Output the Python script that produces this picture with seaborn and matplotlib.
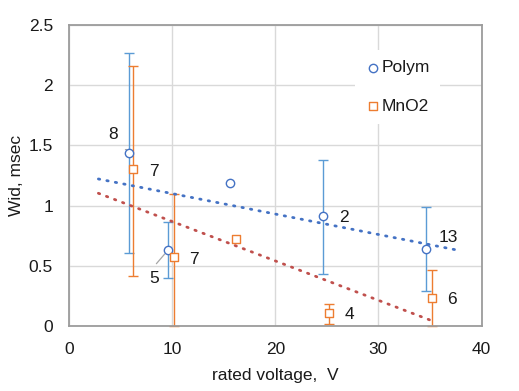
import numpy as np
import pandas as pd
import matplotlib
matplotlib.use("Agg")
import matplotlib.pyplot as plt
import seaborn as sns

# ---- data ----
polym_x = [5.85, 9.6, 15.6, 24.6, 34.6]
polym_y = [1.44, 0.63, 1.19, 0.915, 0.64]
polym_hi = [2.27, 0.86, np.nan, 1.38, 0.99]
polym_lo = [0.605, 0.395, np.nan, 0.434, 0.288]
polym_n = ["8", "5", "", "2", "13"]

mno2_x = [6.2, 10.15, 16.2, 25.2, 35.2]
mno2_y = [1.30, 0.57, 0.72, 0.11, 0.235]
mno2_hi = [2.16, 1.10, np.nan, 0.18, 0.465]
mno2_lo = [0.415, 0.0, np.nan, 0.017, 0.0]
mno2_n = ["7", "7", "", "4", "6"]

x_ticks = [0, 10, 20, 30, 40]
y_ticks = [0, 0.5, 1, 1.5, 2, 2.5]

sns.set_theme(style="white")
plt.rcParams["font.family"] = ["Liberation Sans", "DejaVu Sans"]

FS = 12.5
fig = plt.figure(figsize=(5.19, 3.91), dpi=100)
ax = fig.add_axes([0.1329, 0.1662, 0.795, 0.770])

BLUE = "#4472C4"
BLUE_ERR = "#5B9BD5"
ORANGE = "#ED7D31"
RED = "#C0504D"
TXT = "#1a1a1a"

ax.set_xlim(0, 40)
ax.set_ylim(0, 2.5)
ax.set_xticks(x_ticks)
ax.set_yticks(y_ticks)
ax.set_xticklabels([f"{t:g}" for t in x_ticks])
ax.set_yticklabels([f"{t:g}" for t in y_ticks])
ax.grid(True, color="#D9D9D9", linewidth=1.0)
ax.set_axisbelow(True)
for s in ax.spines.values():
    s.set_color("#9C9C9C")
    s.set_linewidth(1.3)
ax.tick_params(axis="both", length=0, labelsize=FS, colors=TXT)
ax.tick_params(axis="y", pad=11.5)
ax.tick_params(axis="x", pad=11.5)

# error bars
def draw_err(x, y, lo, hi, color):
    x = np.array(x); y = np.array(y); lo = np.array(lo); hi = np.array(hi)
    m = ~np.isnan(lo)
    ax.errorbar(x[m], y[m], yerr=[y[m] - lo[m], hi[m] - y[m]], fmt="none",
                ecolor=color, elinewidth=1.0, capsize=3.3, capthick=1.0,
                zorder=2, clip_on=False)

draw_err(polym_x, polym_y, polym_lo, polym_hi, BLUE_ERR)
draw_err(mno2_x, mno2_y, mno2_lo, mno2_hi, ORANGE)

# trendlines (linear regression of each series)
def trend(x, y, x0, x1, color):
    k, b = np.polyfit(x, y, 1)
    xs = np.array([x0, x1])
    sns.lineplot(x=xs, y=k * xs + b, ax=ax, color=color, linewidth=2.0,
                 linestyle=(0, (0.5, 2.6)), dash_capstyle="round", zorder=2.5,
                 legend=False)

trend(polym_x, polym_y, 2.85, 38.05, BLUE)
trend(mno2_x, mno2_y, 2.85, 35.1, RED)

# markers
sns.scatterplot(x=polym_x, y=polym_y, ax=ax, marker="o", s=36, color="white",
                edgecolor=BLUE, linewidth=1.0, label="Polym", zorder=4)
sns.scatterplot(x=mno2_x, y=mno2_y, ax=ax, marker="s", s=36, color="white",
                edgecolor=ORANGE, linewidth=1.0, label="MnO2", zorder=4)

# count labels
polym_off = [(-12, 13.2), (-10, -20.6), (0, 0), (15.1, -1.4), (16.0, 7.9)]
mno2_off = [(14.8, -1.4), (14.8, -1.2), (0, 0), (14.6, -1.4), (14, -1.2)]
for x, y, t, o in zip(polym_x, polym_y, polym_n, polym_off):
    if t:
        ax.annotate(t, (x, y), xytext=o, textcoords="offset points",
                    ha="center", va="center", fontsize=FS, color=TXT, zorder=5)
for x, y, t, o in zip(mno2_x, mno2_y, mno2_n, mno2_off):
    if t:
        ax.annotate(t, (x, y), xytext=o, textcoords="offset points",
                    ha="center", va="center", fontsize=FS, color=TXT, zorder=5)

# leader lines for labels 8 and 5
ax.annotate("", xy=(5.85, 1.465), xytext=(5.2, 1.465),
            arrowprops=dict(arrowstyle="-", color="#A6A6A6", lw=0.9))
ax.annotate("", xy=(9.45, 0.615), xytext=(8.3, 0.50),
            arrowprops=dict(arrowstyle="-", color="#A6A6A6", lw=0.9))

ax.set_xlabel("rated voltage,  V", fontsize=FS, color=TXT, labelpad=8)
ax.set_ylabel("Wid, msec", fontsize=FS, color=TXT, labelpad=3)

leg = ax.legend(loc="center", bbox_to_anchor=(0.797, 0.794), frameon=True,
                facecolor="white", edgecolor="none", framealpha=1.0,
                fontsize=FS, handletextpad=0.1, handlelength=0.8,
                labelspacing=1.35, borderpad=0.6, fancybox=False)
for t in leg.get_texts():
    t.set_color(TXT)

fig.savefig("out.png", dpi=100)
